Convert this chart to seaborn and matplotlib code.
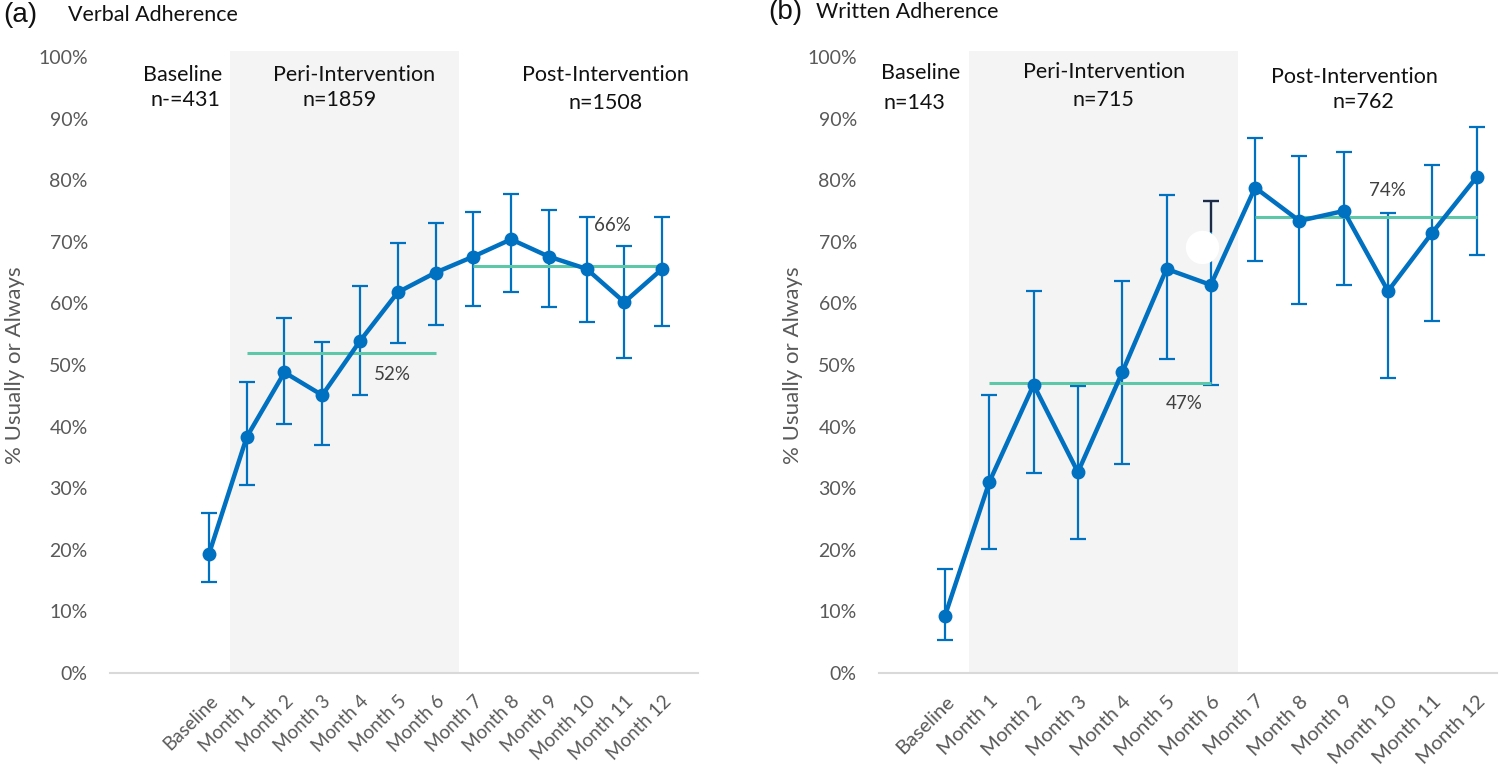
import matplotlib
matplotlib.use("Agg")
import matplotlib.pyplot as plt
import matplotlib.transforms as mtransforms
import numpy as np
import pandas as pd
import seaborn as sns

# ---- data ----
categories = ["Baseline"] + [f"Month {i}" for i in range(1, 13)]

verbal_pct = [19.3, 38.3, 48.8, 45.1, 53.9, 61.8, 65.0, 67.6, 70.4, 67.6, 65.6, 60.2, 65.6]
verbal_lo = [14.7, 30.5, 40.4, 37.0, 45.2, 53.6, 56.5, 59.6, 61.9, 59.4, 56.9, 51.1, 56.3]
verbal_hi = [26.0, 47.3, 57.6, 53.8, 62.8, 69.8, 73.0, 74.9, 77.7, 75.2, 74.0, 69.3, 74.0]
verbal_means = [52, 66]
verbal_n = ["n-=431", "n=1859", "n=1508"]

written_pct = [9.3, 31.0, 46.8, 32.6, 48.8, 65.6, 63.0, 78.8, 73.4, 75.0, 62.0, 71.5, 80.5]
written_lo = [5.4, 20.1, 32.5, 21.7, 34.0, 51.0, 46.8, 66.9, 59.9, 63.0, 47.9, 57.1, 67.9]
written_hi = [16.9, 45.1, 62.0, 46.6, 63.6, 77.6, 76.7, 86.9, 83.9, 84.6, 74.7, 82.4, 88.7]
written_means = [47, 74]
written_n = ["n=143", "n=715", "n=762"]

phases = ["Baseline", "Peri-Intervention", "Post-Intervention"]
yticks = list(range(0, 101, 10))

BLUE = "#0070C0"
GREEN = "#5CC8A8"
SHADE = "#F4F4F4"
GREY = "#595959"

sns.set_theme(style="white")
plt.rcParams["font.family"] = ["Lato", "DejaVu Sans"]


def draw_panel(ax, pct, lo, hi, means, xlim, tick_size, lab_dx):
    df = pd.DataFrame({"pos": np.arange(len(categories)), "pct": pct,
                       "lo": lo, "hi": hi})
    ax.axvspan(0.55, 6.62, ymin=0, ymax=1.01, color=SHADE, lw=0, zorder=0, clip_on=False)
    ax.errorbar(df["pos"], df["pct"], yerr=[df["pct"] - df["lo"], df["hi"] - df["pct"]],
                fmt="none", ecolor=BLUE, elinewidth=1.6, capsize=5.5, capthick=1.6, zorder=2)
    # period means
    ax.hlines(means[0], 1, 6, color=GREEN, lw=2.2, zorder=2.5)
    ax.hlines(means[1], 7, 12, color=GREEN, lw=2.2, zorder=2.5)
    sns.lineplot(data=df, x="pos", y="pct", ax=ax, color=BLUE, lw=3.2, marker="o",
                 markersize=10, markeredgewidth=0, zorder=3)

    ax.set_xlim(*xlim)
    ax.set_ylim(0, 100)
    ax.set_yticks(yticks)
    ax.set_yticklabels([f"{v}%" for v in yticks], color=GREY, fontsize=14)
    ax.set_xticks(df["pos"])
    ax.set_xticklabels(categories, rotation=45, ha="right", va="top",
                       rotation_mode="anchor", color=GREY, fontsize=tick_size)
    off = mtransforms.ScaledTranslation(lab_dx / 72, 0, ax.figure.dpi_scale_trans)
    for lab in ax.get_xticklabels():
        lab.set_transform(lab.get_transform() + off)
    ax.tick_params(axis="y", length=0, pad=16)
    ax.tick_params(axis="x", length=0, pad=14)
    ax.set_xlabel("")
    ax.set_ylabel("% Usually or Always", color=GREY, fontsize=16)
    for s in ("left", "right", "top"):
        ax.spines[s].set_visible(False)
    ax.spines["bottom"].set_color("#D9D9D9")
    ax.spines["bottom"].set_linewidth(1.5)
    ax.grid(False)


fig = plt.figure(figsize=(15, 7.7), dpi=100)
ax_a = fig.add_axes([110 / 1500, 97 / 770, 588 / 1500, 616 / 770])
ax_b = fig.add_axes([879 / 1500, 97 / 770, 618 / 1500, 616 / 770])

draw_panel(ax_a, verbal_pct, verbal_lo, verbal_hi, verbal_means, (-2.62, 12.95), 13.5, 4)
draw_panel(ax_b, written_pct, written_lo, written_hi, written_means, (-1.49, 12.46), 14.5, 4)
ax_a.yaxis.set_label_coords(-0.145, 0.5)
ax_b.yaxis.set_label_coords(-0.123, 0.5)

# Month 6 error bar glitch in panel (b): dark top segment and a white blob
ax_b.vlines(6, 71.6, written_hi[6], color="#1F2A44", lw=1.6, zorder=2.2)
ax_b.plot([6], [written_hi[6]], marker="_", markersize=11, mew=1.6, color="#1F2A44", zorder=2.2)
ax_b.plot([5.79], [69.1], marker="o", markersize=24, color="white", mew=0, zorder=2.8)

# mean labels
ax_a.text(4.87, 48.4, f"{verbal_means[0]}%", ha="center", va="center", fontsize=13.5, color="#404040")
ax_a.text(10.68, 72.7, f"{verbal_means[1]}%", ha="center", va="center", fontsize=13.5, color="#404040")
ax_b.text(5.4, 43.7, f"{written_means[0]}%", ha="center", va="center", fontsize=13.5, color="#404040")
ax_b.text(9.99, 78.4, f"{written_means[1]}%", ha="center", va="center", fontsize=13.5, color="#404040")

# phase headers
for ax, n_lab, head_pos, n_pos in [
    (ax_a, verbal_n, [(-0.69, 97.1), (3.84, 97.1), (10.49, 97.1)],
     [(-0.62, 93.0), (3.47, 93.0), (10.49, 92.6)]),
    (ax_b, written_n, [(-0.56, 97.4), (3.59, 97.6), (9.24, 96.8)],
     [(-0.68, 92.5), (3.57, 93.0), (9.45, 92.7)]),
]:
    for ph, lab, (hx, hy), (nx, ny) in zip(phases, n_lab, head_pos, n_pos):
        ax.text(hx, hy, ph, ha="center", va="center", fontsize=15.5, color="#111111")
        ax.text(nx, ny, lab, ha="center", va="center", fontsize=15.5, color="#111111")

fig.text(3 / 1500, 1 - 15 / 770, "(a)", fontsize=20, family=["Liberation Sans", "DejaVu Sans"],
         ha="left", va="center", color="#111111")
fig.text(68 / 1500, 1 - 15 / 770, "Verbal Adherence", fontsize=15.5, ha="left", va="center", color="#111111")
fig.text(768 / 1500, 1 - 12 / 770, "(b)", fontsize=20, family=["Liberation Sans", "DejaVu Sans"],
         ha="left", va="center", color="#111111")
fig.text(816 / 1500, 1 - 12 / 770, "Written Adherence", fontsize=15.5, ha="left", va="center", color="#111111")

fig.savefig("out.png", dpi=100, facecolor="white")
